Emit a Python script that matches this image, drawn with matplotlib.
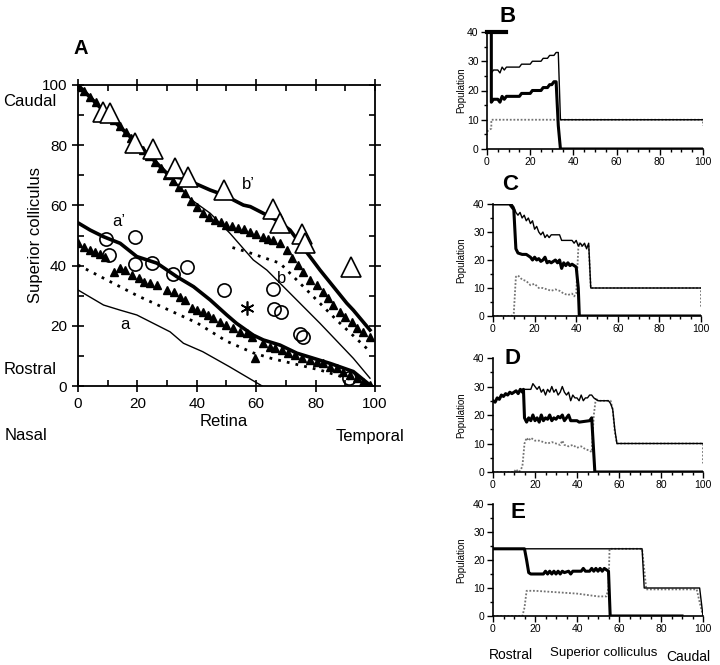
import matplotlib.pyplot as plt
from matplotlib.ticker import MultipleLocator

plt.rcParams['font.family'] = ['Liberation Sans', 'DejaVu Sans']

# ---- Panel A data (retina position -> colliculus position) ----
open_tri_x = [8.3, 10.9, 19.1, 25.1, 32.5, 37.0, 49.3, 65.8, 68.0, 75.3, 76.5, 91.9]
open_tri_y = [91.1, 90.6, 80.8, 78.6, 72.3, 69.5, 65.1, 58.8, 54.0, 50.5, 47.4, 39.6]

circ_x = [9.5, 10.6, 19.3, 19.3, 24.9, 32.0, 36.7, 49.0, 65.8, 66.0, 68.4, 74.8, 75.6, 91.4]
circ_y = [48.7, 43.5, 49.4, 40.4, 41.0, 37.2, 39.4, 31.9, 32.2, 25.7, 24.6, 17.3, 16.2, 2.5]

upper_tri_x = [0, 2, 4, 6, 8, 10, 12, 14, 16, 18, 20, 22, 24, 26, 28, 30, 32, 34, 36, 38,
               40, 42, 44, 46, 48, 50, 52, 54, 56, 58, 60, 62.4, 64, 65.8, 68, 70.3, 72,
               74.2, 75.9, 78.1, 80.4, 82.6, 84.3, 86, 88.2, 89.9, 92.2, 93.8, 96.1, 98.3]
upper_tri_y = [99.5, 98, 96, 94.5, 92.5, 90.5, 88.5, 86.5, 84.5, 82.5, 80.5, 78.5, 76.5, 74.5,
               72.5, 70, 68, 66, 64, 61.5, 59.5, 57.5, 56, 55, 54.5, 53.5, 53, 52.5, 52, 51.3,
               50.5, 49.6, 49, 48.5, 47.4, 45.2, 42.4, 40.2, 38, 35.2, 33.6, 31.3, 29.1, 26.9,
               24.7, 23, 21.4, 19.2, 18, 16.4]

lower_tri_x = [0, 1.9, 4.1, 5.8, 7.5, 9.2, 12, 14.2, 15.9, 18.2, 20.4, 22.1, 24.3, 26.6, 29.9,
               32.2, 34.4, 36.1, 38.3, 40, 42.2, 43.9, 45.6, 47.9, 50, 52.3, 54.6, 56.8, 58.5,
               59.6, 62.4, 64.7, 66.4, 68.6, 70.8, 73.1, 75.3, 78.1, 80.4, 82.6, 84.9, 87.1,
               89.3, 91.6, 93.8, 96.1, 98.3]
lower_tri_y = [47.4, 46.3, 45.2, 44.6, 43.9, 43, 38, 39.1, 38.5, 36.9, 35.8, 34.7, 34.1, 33.6,
               31.9, 31.3, 29.7, 28.6, 25.8, 25.2, 24.7, 23.6, 22.5, 21.4, 20.3, 19.2, 18, 17.5,
               16.4, 9.2, 14.2, 13.1, 12.5, 12, 10.9, 10.3, 9.2, 8.6, 8.1, 7.5, 6.4, 5.9, 4.8,
               3.7, 2.6, 1.4, 0.3]

a_x = [0, 8.6, 14.2, 19.8, 31, 35.5, 42, 51, 62]
a_y = [31.9, 26.9, 25.2, 23.6, 18, 14.2, 11.4, 6.4, 0]

a2_x = [0, 4.1, 8.6, 14.2, 19.8, 26.6, 33.3, 38.9, 44.5, 50.1, 53.4, 59, 62.4, 68, 73.7,
        79.3, 84.9, 92.7, 98.3]
a2_y = [54.2, 51.8, 49.6, 47.4, 43, 40.8, 36.3, 33, 28.6, 23.6, 20.8, 16.9, 15.3, 13.6, 10.9,
        9.2, 7.5, 4.8, 0.3]

b2_x = [0, 10, 20, 31, 35.5, 44.5, 49, 55.7, 58, 66.9, 71.4, 81.5, 90.5, 92.7, 98.3]
b2_y = [100, 90, 80.5, 69.6, 69, 65.1, 63.5, 60.1, 59.6, 55.1, 51.8, 38.5, 27.5, 25.2, 18.6]

b_x = [0, 10, 20, 31, 38, 44.5, 51.2, 59, 63.6, 70.3, 81.5, 92.7, 98.3]
b_y = [100, 90, 80.5, 69.6, 62, 57.4, 50.7, 41.9, 38.5, 31.9, 20.8, 9.2, 2.6]

dot_lo_x = [0, 20, 40, 50, 59, 65, 81.5, 98.4]
dot_lo_y = [40.2, 30, 21, 14.9, 11, 9.2, 5.3, 0.2]

dot_hi_x = [52, 56.8, 68, 75.9, 87.1, 98.4]
dot_hi_y = [46, 44.6, 40.8, 33, 21.9, 11.4]

# ---- Panels B-E data (population along colliculus) ----
B_thin_x = [2, 2, 3, 5, 6, 7, 8, 9, 15, 16, 20, 21, 25, 26, 28, 29, 31, 32, 33, 34, 100]
B_thin_y = [40, 26, 27, 27, 26, 28, 27, 28, 28, 29, 29, 30, 30, 31, 31, 32, 32, 33, 33, 10, 10]
B_thick_x = [2, 2, 3, 5, 6, 7, 8, 9, 15, 16, 20, 21, 25, 26, 28, 29, 30, 31, 32, 33, 34, 100]
B_thick_y = [40, 16, 17, 17, 16, 18, 17, 18, 18, 19, 19, 20, 20, 21, 21, 22, 22, 23, 23, 8, 0, 0]
B_dot_x = [0, 2, 2, 100, 100]
B_dot_y = [6, 7, 10, 10, 8]

C_thick_x = [0, 8, 9, 10, 11, 12, 14, 16, 18, 19, 20, 21, 22, 23, 24, 25, 26, 27, 28, 30, 31,
             32, 33, 34, 35, 36, 37, 38, 39, 40, 41, 41.5, 100]
C_thick_y = [40, 40, 39, 38, 24, 22.5, 22, 22, 21, 20, 21, 20, 20.5, 19.5, 20, 21, 19, 19.5, 19,
             20, 19, 20, 17, 19, 18, 19, 18, 18.5, 18, 17.5, 10, 0, 0]
C_thin_x = [0, 9, 10, 11, 12, 13, 14, 15, 16, 17, 18, 19, 20, 21, 22, 23, 24, 25, 26, 27, 28,
            29, 30, 32, 33, 38, 39, 40, 41, 42, 43, 44, 45, 46, 47, 100]
C_thin_y = [40, 40, 39, 37, 36, 37, 35, 36, 34, 35, 33, 34, 31, 32, 30, 29, 30, 28, 29, 28, 29,
            29, 29, 29, 27, 27, 26, 27, 25, 26, 25, 26, 24, 26, 10, 10]
C_dot_x = [0, 9, 10, 11, 12, 14, 16, 18, 20, 22, 24, 26, 28, 30, 32, 34, 36, 38, 39, 40, 41,
           41.5, 42, 44, 46, 47, 100, 100]
C_dot_y = [0, 0, 1, 14, 14.5, 13, 12.5, 11, 11.5, 10, 10, 9.5, 9, 9.5, 9, 8, 7.5, 8, 7, 8, 24,
           26, 25, 25, 25, 10, 10, 3]

D_thin_x = [0, 1, 2, 3, 4, 5, 6, 7, 8, 9, 10, 11, 12, 13, 14, 16, 18, 19, 20, 21, 22, 23, 24,
            25, 26, 27, 28, 29, 30, 31, 32, 33, 34, 35, 36, 37, 38, 39, 40, 41, 42, 43, 44, 45,
            46, 47, 48, 50, 55, 56, 57, 58, 59, 100]
D_thin_y = [25, 24.5, 26, 25.5, 27, 26.5, 27.5, 27, 28, 27.5, 28, 28.5, 27.5, 29, 29, 29, 29,
            31, 30, 29, 30, 28, 29, 27, 29, 28, 30, 28, 29, 27, 28, 30, 28, 27, 28, 25, 27, 26,
            26, 25, 27, 25, 26, 26, 27, 27, 26, 25, 25, 24, 22, 15, 10, 10]
D_thick_x = [0, 1, 2, 3, 4, 5, 6, 7, 8, 9, 10, 11, 12, 13, 14, 14.5, 15, 16, 17, 18, 19, 20,
             21, 22, 23, 24, 25, 26, 27, 28, 29, 30, 31, 32, 33, 34, 35, 36, 37, 40, 41, 46,
             47, 48.5, 100]
D_thick_y = [25, 24.5, 26, 25.5, 27, 26.5, 27.5, 27, 28, 27.5, 28, 28.5, 27.5, 29, 28, 29, 19,
             17.5, 19, 18, 20, 18, 19, 17.5, 20, 18, 19, 18.5, 20, 18, 19, 18.5, 19.5, 19, 20,
             18, 19, 20, 18, 18, 17.5, 18, 19, 0, 0]
D_dot_x = [0, 10, 11, 12, 13, 14, 15, 16, 17, 18, 20, 22, 24, 26, 28, 30, 32, 33, 34, 36, 38,
           40, 42, 44, 46, 47, 48, 49, 50, 56, 57, 58, 59, 100, 100]
D_dot_y = [0, 0, 1, 0, 0.5, 2, 10, 12, 11, 12, 11, 11, 10.5, 10, 10.5, 10, 9.5, 11, 9.5, 9,
           9.5, 8.5, 9, 8, 7.5, 7, 20, 26, 25, 25, 22, 14, 10, 10, 3]

E_thin_x = [0, 71, 72, 98.4, 100]
E_thin_y = [24, 24, 10, 10, 0]
E_thick_x = [0, 15, 16, 17, 18, 24, 25, 26, 27, 28, 29, 30, 31, 32, 33, 34, 36, 37, 38, 40, 42,
             43, 44, 45, 46, 47, 48, 49, 50, 51, 52, 53, 54, 55, 55.8, 90]
E_thick_y = [24, 24, 20, 15.5, 15, 15, 16, 15, 16, 15, 16, 15, 16, 15, 16, 15.5, 16, 15, 16,
             16, 16, 17, 16, 16, 16, 17, 16, 17, 16, 17, 16, 17, 16.5, 16, 0, 0]
E_dot_x = [0, 14, 15, 16, 20, 30, 40, 45, 50, 54, 55, 55.5, 70, 71, 73, 97, 99, 100]
E_dot_y = [0, 0, 3, 9, 9, 8.5, 8, 7.5, 7, 7, 10, 24, 24, 24, 9.5, 9.5, 3, 0]

W, H = 720, 665
fig = plt.figure(figsize=(7.2, 6.65), dpi=100)


def box(l, t, r, b):
    return [l / W, 1 - b / H, (r - l) / W, (b - t) / H]


def ftext(px, py, s, **kw):
    fig.text(px / W, 1 - py / H, s, **kw)


# ---------------- Panel A ----------------
ax = fig.add_axes(box(78, 85, 375, 386))
ax.plot(a_x, a_y, color='black', lw=1.0)
ax.plot(b_x, b_y, color='black', lw=1.0)
ax.plot(a2_x, a2_y, color='black', lw=2.6)
ax.plot(b2_x, b2_y, color='black', lw=2.6)
ax.plot(dot_lo_x, dot_lo_y, color='black', lw=2.0, ls=(0, (1, 2.2)))
ax.plot(dot_hi_x, dot_hi_y, color='black', lw=2.0, ls=(0, (1, 2.2)))
ax.plot(upper_tri_x, upper_tri_y, '^', color='black', ms=5.5, ls='none')
ax.plot(lower_tri_x, lower_tri_y, '^', color='black', ms=5.5, ls='none')
ax.plot(open_tri_x, open_tri_y, '^', mfc='white', mec='black', mew=1.2, ms=14, ls='none')
ax.plot(circ_x, circ_y, 'o', mfc='none', mec='black', mew=1.2, ms=9.5, ls='none')
ax.plot([57], [25.8], marker=(6, 2, 0), color='black', ms=10, mew=1.2, ls='none')
ax.text(13.7, 54.6, "a’", fontsize=12, ha='center', va='center')
ax.text(15.9, 20.3, "a", fontsize=12, ha='center', va='center')
ax.text(57.4, 66.8, "b’", fontsize=12, ha='center', va='center')
ax.text(68.6, 35.8, "b", fontsize=12, ha='center', va='center')
ax.set_xlim(0, 100)
ax.set_ylim(0, 100)
ax.xaxis.set_major_locator(MultipleLocator(20))
ax.xaxis.set_minor_locator(MultipleLocator(10))
ax.yaxis.set_major_locator(MultipleLocator(20))
ax.yaxis.set_minor_locator(MultipleLocator(10))
ax.tick_params(which='both', top=True, right=True, labelsize=11, width=1.2)
ax.tick_params(which='major', direction='inout', length=9)
ax.tick_params(which='minor', direction='in', length=4)
for s in ax.spines.values():
    s.set_linewidth(1.3)

ftext(73, 48, "A", fontsize=14.5, fontweight='bold', ha='left', va='center')
ftext(30, 102, "Caudal", fontsize=12, ha='center', va='center')
ftext(30, 370, "Rostral", fontsize=12, ha='center', va='center')
ftext(36, 235, "Superior colliculus", fontsize=12, rotation=90, ha='center', va='center')
ftext(224, 421, "Retina", fontsize=12, ha='center', va='center')
ftext(26, 436, "Nasal", fontsize=12, ha='center', va='center')
ftext(370, 436, "Temporal", fontsize=12, ha='center', va='center')

# ---------------- Panels B-E ----------------
panels = [
    ("B", box(487, 32, 703, 149), B_thin_x, B_thin_y, B_thick_x, B_thick_y, B_dot_x, B_dot_y, (508, 17)),
    ("C", box(493, 204, 701, 316), C_thin_x, C_thin_y, C_thick_x, C_thick_y, C_dot_x, C_dot_y, (510, 185)),
    ("D", box(493, 358, 703, 472), D_thin_x, D_thin_y, D_thick_x, D_thick_y, D_dot_x, D_dot_y, (513, 358)),
    ("E", box(493, 504, 703, 616), E_thin_x, E_thin_y, E_thick_x, E_thick_y, E_dot_x, E_dot_y, (518, 512)),
]
for label, rect, tx, ty, kx, ky, dx, dy, lpos in panels:
    axp = fig.add_axes(rect)
    axp.plot(dx, dy, color='0.45', lw=1.3, ls=(0, (1, 1)))
    axp.plot(tx, ty, color='black', lw=1.0)
    axp.plot(kx, ky, color='black', lw=2.2)
    if label == "B":
        axp.plot([0, 9], [40, 40], color='black', lw=3, clip_on=False)
    axp.set_xlim(0, 100)
    axp.set_ylim(0, 40)
    axp.spines['top'].set_visible(False)
    axp.spines['right'].set_visible(False)
    axp.xaxis.set_major_locator(MultipleLocator(20))
    axp.xaxis.set_minor_locator(MultipleLocator(5))
    axp.yaxis.set_major_locator(MultipleLocator(10))
    axp.yaxis.set_minor_locator(MultipleLocator(5))
    axp.tick_params(which='both', labelsize=7.5, width=1.0, direction='out', pad=2)
    axp.tick_params(which='major', length=4)
    axp.tick_params(which='minor', length=2)
    for s in axp.spines.values():
        s.set_linewidth(1.2)
    ftext(lpos[0], lpos[1], label, fontsize=16, fontweight='bold', ha='center', va='center')
    yc = (1 - rect[1] - rect[3] / 2) * H
    ftext(461, yc, "Population", fontsize=7, rotation=90, ha='center', va='center')

ftext(511, 655, "Rostral", fontsize=10, ha='center', va='center')
ftext(604, 653, "Superior colliculus", fontsize=9.5, ha='center', va='center')
ftext(688, 657, "Caudal", fontsize=10, ha='center', va='center')

fig.savefig("out.png", dpi=100)
